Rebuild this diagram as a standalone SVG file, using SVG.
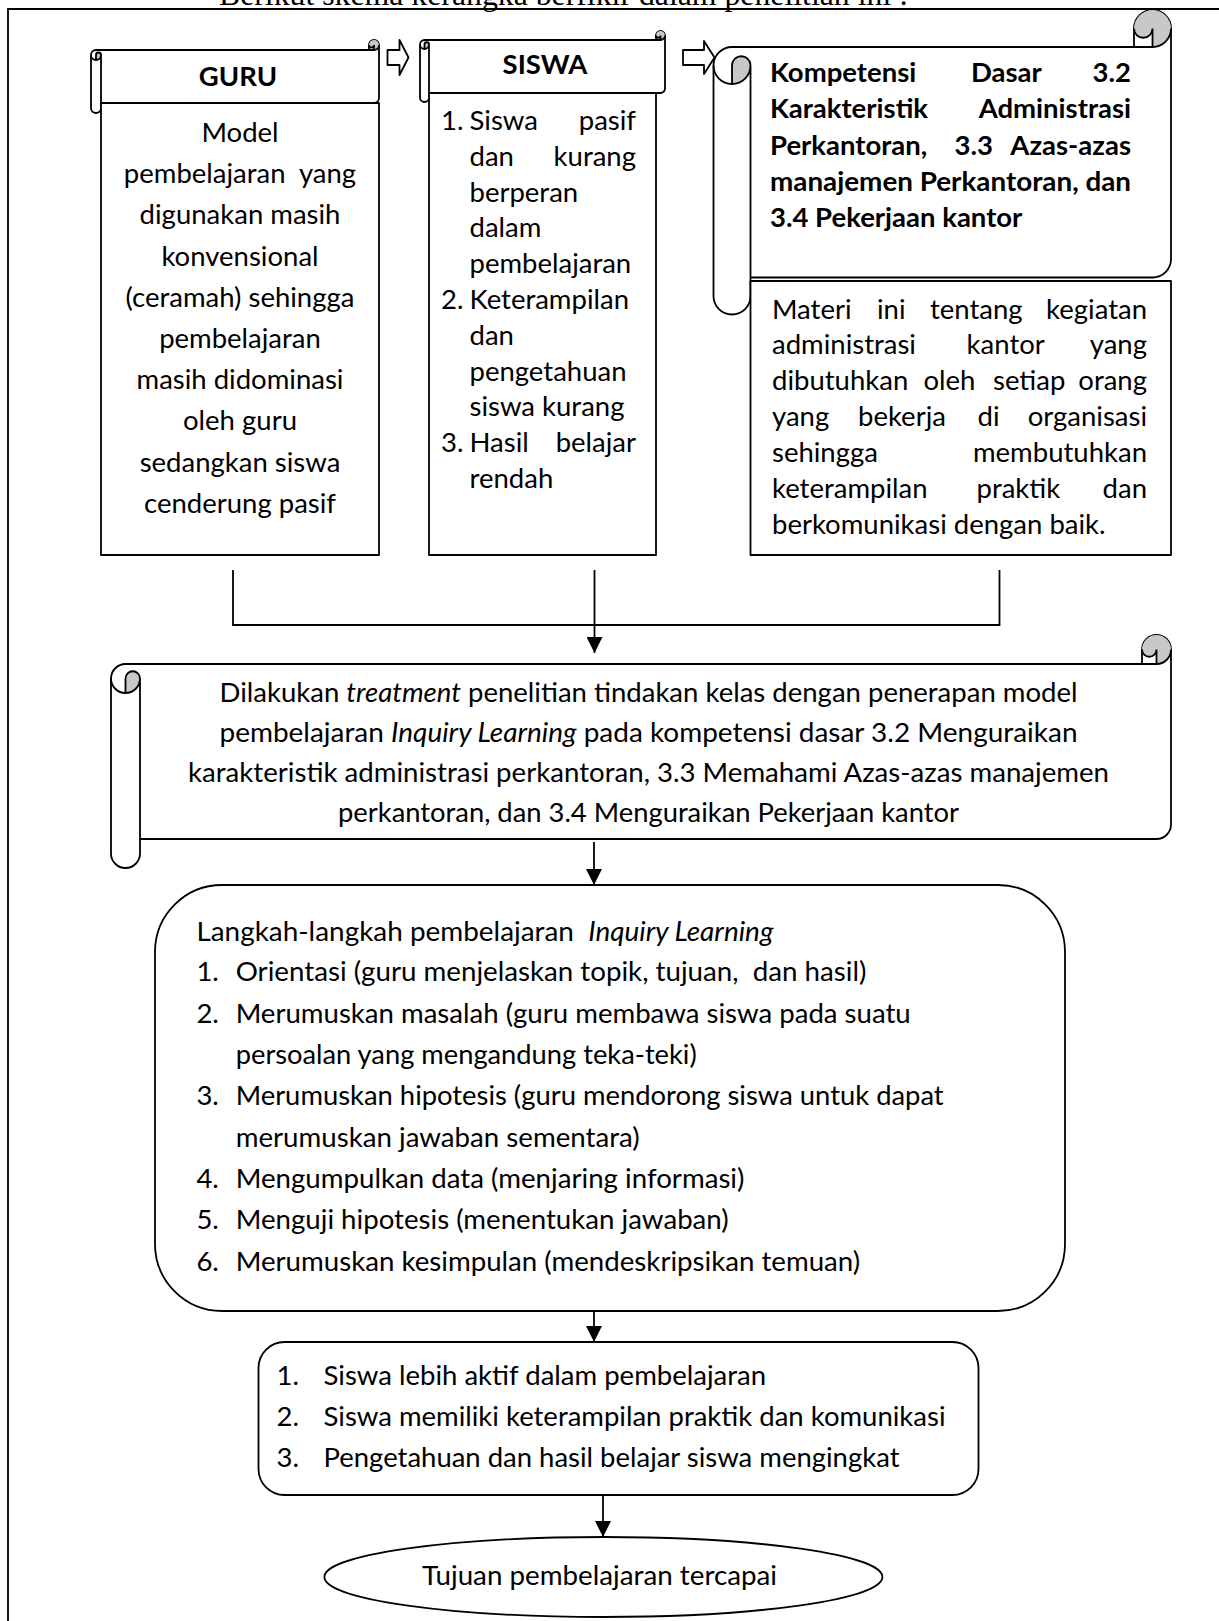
<svg xmlns="http://www.w3.org/2000/svg" width="1219" height="1621" viewBox="0 0 1219 1621">
<defs>
<style>
.ln{fill:none;stroke:#000;stroke-width:1.8}
.bx{fill:#fff;stroke:#000;stroke-width:1.8;stroke-linejoin:round}
.gr{fill:#c8c8c8;stroke:none}
.t{font-family:Lato,"Liberation Sans",sans-serif;font-size:27.5px;fill:#000}
.b{font-weight:bold}
.c{text-anchor:middle}
.e{text-anchor:end}
.pre{white-space:pre}
.i{font-style:italic}
</style>
<marker id="ah" markerUnits="userSpaceOnUse" markerWidth="16" markerHeight="16" viewBox="0 0 16 16" refX="16" refY="8" orient="auto"><path d="M0,0 L16,8 L0,16 Z" fill="#000"/></marker>
</defs>
<rect width="1219" height="1621" fill="#fff"/>

<g id="caption">
<text x="219" y="5" font-family="Liberation Serif,serif" font-size="31.8" textLength="689" lengthAdjust="spacingAndGlyphs">Berikut skema kerangka berfikir dalam penelitian ini :</text>
</g>
<g id="page-frame"><path class="ln" stroke-width="2" d="M8,1621 L8,9 L1219,9"/></g>

<g id="node-guru">
<path class="bx" d="M91,55 A5 5 0 0 1 96,50 L369,50 L369,45 A5 5 0 0 1 379,45 L379,98 A5 5 0 0 1 374,103 L101,103 L101,108 A5 5 0 0 1 91,108 Z"/>
<path class="gr" d="M96,60 A5 5 0 0 0 101,55 A2.5 2.5 0 0 0 96,55 Z M374,50 A5 5 0 1 0 369,45 A2.5 2.5 0 0 0 374,45 Z"/>
<path class="ln" d="M369,50 L374,50 A5 5 0 0 0 379,45 M374,50 L374,45 A2.5 2.5 0 0 1 369,45 M96,60 L96,55 A2.5 2.5 0 0 1 101,55 A5 5 0 0 1 91,55 M101,55 L101,103"/>
<text class="t b c" x="238" y="86">GURU</text>
<rect class="bx" x="101" y="103" width="278" height="452"/>
<text class="t c" x="240" y="142">Model</text>
<text class="t c pre" x="240" y="183.2">pembelajaran  yang</text>
<text class="t c" x="240" y="224.4">digunakan masih</text>
<text class="t c" x="240" y="265.6">konvensional</text>
<text class="t c" x="240" y="306.8">(ceramah) sehingga</text>
<text class="t c" x="240" y="348">pembelajaran</text>
<text class="t c" x="240" y="389.2">masih didominasi</text>
<text class="t c" x="240" y="430.4">oleh guru</text>
<text class="t c" x="240" y="471.6">sedangkan siswa</text>
<text class="t c" x="240" y="512.8">cenderung pasif</text>
</g>

<g id="node-siswa">
<path class="bx" d="M420,44.5 A4.5 4.5 0 0 1 424.5,40 L656,40 L656,35.5 A4.5 4.5 0 0 1 665,35.5 L665,88.5 A4.5 4.5 0 0 1 660.5,93 L429,93 L429,97.5 A4.5 4.5 0 0 1 420,97.5 Z"/>
<path class="gr" d="M424.5,49 A4.5 4.5 0 0 0 429,44.5 A2.25 2.25 0 0 0 424.5,44.5 Z M660.5,40 A4.5 4.5 0 1 0 656,35.5 A2.25 2.25 0 0 0 660.5,35.5 Z"/>
<path class="ln" d="M656,40 L660.5,40 A4.5 4.5 0 0 0 665,35.5 M660.5,40 L660.5,35.5 A2.25 2.25 0 0 1 656,35.5 M424.5,49 L424.5,44.5 A2.25 2.25 0 0 1 429,44.5 A4.5 4.5 0 0 1 420,44.5 M429,44.5 L429,93"/>
<text class="t b c" x="545" y="74">SISWA</text>
<rect class="bx" x="429" y="93" width="227" height="462"/>
<text class="t" y="130"><tspan x="441">1.</tspan><tspan x="469.5">Siswa</tspan></text>
<text class="t e" x="636" y="130">pasif</text>
<text class="t" x="469.5" y="165.8">dan</text>
<text class="t e" x="636" y="165.8">kurang</text>
<text class="t" x="469.5" y="201.6">berperan</text>
<text class="t" x="469.5" y="237.4">dalam</text>
<text class="t" x="469.5" y="273.2">pembelajaran</text>
<text class="t" y="309"><tspan x="441">2.</tspan><tspan x="469.5">Keterampilan</tspan></text>
<text class="t" x="469.5" y="344.8">dan</text>
<text class="t" x="469.5" y="380.6">pengetahuan</text>
<text class="t" x="469.5" y="416.4">siswa kurang</text>
<text class="t" y="452.2"><tspan x="441">3.</tspan><tspan x="469.5">Hasil</tspan></text>
<text class="t e" x="636" y="452.2">belajar</text>
<text class="t" x="469.5" y="488">rendah</text>
</g>

<g id="node-kompetensi">
<path class="bx" d="M713.5,65.5 A18.5 18.5 0 0 1 732,47 L1134,47 L1134,28.5 A18.5 18.5 0 0 1 1171,28.5 L1171,259 A18.5 18.5 0 0 1 1152.5,277.5 L750.5,277.5 L750.5,296 A18.5 18.5 0 0 1 713.5,296 Z"/>
<path class="gr" d="M732,84 A18.5 18.5 0 0 0 750.5,65.5 A9.25 9.25 0 0 0 732,65.5 Z M1152.5,47 A18.5 18.5 0 1 0 1134,28.5 A9.25 9.25 0 0 0 1152.5,28.5 Z"/>
<path class="ln" d="M1134,47 L1152.5,47 A18.5 18.5 0 0 0 1171,28.5 M1152.5,47 L1152.5,28.5 A9.25 9.25 0 0 1 1134,28.5 M732,84 L732,65.5 A9.25 9.25 0 0 1 750.5,65.5 A18.5 18.5 0 0 1 713.5,65.5 M750.5,65.5 L750.5,277.5"/>
<text class="t b" y="82"><tspan x="770">Kompetensi</tspan><tspan x="971">Dasar</tspan></text>
<text class="t b e" x="1131" y="82">3.2</text>
<text class="t b" x="770" y="118.3">Karakteristik</text>
<text class="t b e" x="1131" y="118.3">Administrasi</text>
<text class="t b" y="154.6"><tspan x="770">Perkantoran,</tspan><tspan x="954.5">3.3</tspan></text>
<text class="t b e" x="1131" y="154.6">Azas-azas</text>
<text class="t b" x="770" y="190.9" textLength="361" lengthAdjust="spacingAndGlyphs">manajemen Perkantoran, dan</text>
<text class="t b" x="770" y="227.2">3.4 Pekerjaan kantor</text>
</g>

<g id="node-materi">
<rect class="bx" x="750.5" y="281" width="420.5" height="274"/>
<text class="t" y="318.5"><tspan x="772">Materi</tspan><tspan x="877">ini</tspan><tspan x="930">tentang</tspan></text>
<text class="t e" x="1147" y="318.5">kegiatan</text>
<text class="t" y="354.4"><tspan x="772">administrasi</tspan><tspan x="966.6">kantor</tspan></text>
<text class="t e" x="1147" y="354.4">yang</text>
<text class="t" y="390.2"><tspan x="772">dibutuhkan</tspan><tspan x="923.5">oleh</tspan><tspan x="993">setiap</tspan></text>
<text class="t e" x="1147" y="390.2">orang</text>
<text class="t" y="426.1"><tspan x="772">yang</tspan><tspan x="858">bekerja</tspan><tspan x="977.5">di</tspan></text>
<text class="t e" x="1147" y="426.1">organisasi</text>
<text class="t" x="772" y="461.9">sehingga</text>
<text class="t e" x="1147" y="461.9">membutuhkan</text>
<text class="t" y="497.8"><tspan x="772">keterampilan</tspan><tspan x="976.5">praktik</tspan></text>
<text class="t e" x="1147" y="497.8">dan</text>
<text class="t" x="772" y="533.6">berkomunikasi dengan baik.</text>
</g>

<g id="node-treatment">
<path class="bx" d="M111,678.5 A14.5 14.5 0 0 1 125.5,664 L1142,664 L1142,649.5 A14.5 14.5 0 0 1 1171,649.5 L1171,824.5 A14.5 14.5 0 0 1 1156.5,839 L140,839 L140,853.5 A14.5 14.5 0 0 1 111,853.5 Z"/>
<path class="gr" d="M125.5,693 A14.5 14.5 0 0 0 140,678.5 A7.25 7.25 0 0 0 125.5,678.5 Z M1156.5,664 A14.5 14.5 0 1 0 1142,649.5 A7.25 7.25 0 0 0 1156.5,649.5 Z"/>
<path class="ln" d="M1142,664 L1156.5,664 A14.5 14.5 0 0 0 1171,649.5 M1156.5,664 L1156.5,649.5 A7.25 7.25 0 0 1 1142,649.5 M125.5,693 L125.5,678.5 A7.25 7.25 0 0 1 140,678.5 A14.5 14.5 0 0 1 111,678.5 M140,678.5 L140,839"/>
<text class="t c" x="648.5" y="702" textLength="858" lengthAdjust="spacingAndGlyphs">Dilakukan <tspan class="i">treatment</tspan> penelitian tindakan kelas dengan penerapan model</text>
<text class="t c" x="648.5" y="742" textLength="858" lengthAdjust="spacingAndGlyphs">pembelajaran <tspan class="i">Inquiry Learning</tspan> pada kompetensi dasar 3.2 Menguraikan</text>
<text class="t c" x="648.5" y="782" textLength="921" lengthAdjust="spacingAndGlyphs">karakteristik administrasi perkantoran, 3.3 Memahami Azas-azas manajemen</text>
<text class="t c" x="648.5" y="822" textLength="621" lengthAdjust="spacingAndGlyphs">perkantoran, dan 3.4 Menguraikan Pekerjaan kantor</text>
</g>

<g id="node-langkah">
<rect class="bx" x="155" y="885" width="910" height="426" rx="67" ry="67"/>
<text class="t pre" x="196.4" y="941" textLength="577" lengthAdjust="spacingAndGlyphs">Langkah-langkah pembelajaran  <tspan class="i">Inquiry Learning</tspan></text>
<text class="t" x="196.4" y="981.3">1.</text>
<text class="t pre" x="235.7" y="981.3" textLength="630.7" lengthAdjust="spacingAndGlyphs">Orientasi (guru menjelaskan topik, tujuan,  dan hasil)</text>
<text class="t" x="196.4" y="1022.6">2.</text>
<text class="t" x="235.7" y="1022.6" textLength="675" lengthAdjust="spacingAndGlyphs">Merumuskan masalah (guru membawa siswa pada suatu</text>
<text class="t" x="235.7" y="1064" textLength="461" lengthAdjust="spacingAndGlyphs">persoalan yang mengandung teka-teki)</text>
<text class="t" x="196.4" y="1105.3">3.</text>
<text class="t" x="235.7" y="1105.3" textLength="708" lengthAdjust="spacingAndGlyphs">Merumuskan hipotesis (guru mendorong siswa untuk dapat</text>
<text class="t" x="235.7" y="1146.7" textLength="404" lengthAdjust="spacingAndGlyphs">merumuskan jawaban sementara)</text>
<text class="t" x="196.4" y="1188">4.</text>
<text class="t" x="235.7" y="1188" textLength="508.7" lengthAdjust="spacingAndGlyphs">Mengumpulkan data (menjaring informasi)</text>
<text class="t" x="196.4" y="1229.4">5.</text>
<text class="t" x="235.7" y="1229.4" textLength="493" lengthAdjust="spacingAndGlyphs">Menguji hipotesis (menentukan jawaban)</text>
<text class="t" x="196.4" y="1270.8">6.</text>
<text class="t" x="235.7" y="1270.8" textLength="624.5" lengthAdjust="spacingAndGlyphs">Merumuskan kesimpulan (mendeskripsikan temuan)</text>
</g>

<g id="node-hasil">
<rect class="bx" x="258.5" y="1342" width="720" height="153" rx="26" ry="26"/>
<text class="t" x="276.5" y="1385">1.</text>
<text class="t" x="323.5" y="1385" textLength="442.5" lengthAdjust="spacingAndGlyphs">Siswa lebih aktif dalam pembelajaran</text>
<text class="t" x="276.5" y="1426">2.</text>
<text class="t" x="323.5" y="1426" textLength="622" lengthAdjust="spacingAndGlyphs">Siswa memiliki keterampilan praktik dan komunikasi</text>
<text class="t" x="276.5" y="1467">3.</text>
<text class="t" x="323.5" y="1467" textLength="576" lengthAdjust="spacingAndGlyphs">Pengetahuan dan hasil belajar siswa mengingkat</text>
</g>

<g id="node-tujuan">
<ellipse class="bx" cx="603.4" cy="1577" rx="279" ry="40"/>
<text class="t c" x="599.5" y="1585" textLength="355" lengthAdjust="spacingAndGlyphs">Tujuan pembelajaran tercapai</text>
</g>

<g id="connectors">
<path class="bx" d="M387.5,50 L399.5,50 L399.5,40 L408.5,57.5 L399.5,75 L399.5,65 L387.5,65 Z"/>
<path class="bx" d="M683,50 L704,50 L704,41 L714.5,57.5 L704,74 L704,65 L683,65 Z"/>
<path class="ln" d="M233,570 L233,625 L999.5,625 L999.5,570"/>
<path class="ln" marker-end="url(#ah)" d="M594.5,570 L594.5,653"/>
<path class="ln" marker-end="url(#ah)" d="M594,842 L594,885"/>
<path class="ln" marker-end="url(#ah)" d="M594,1311 L594,1342"/>
<path class="ln" marker-end="url(#ah)" d="M603,1496 L603,1537"/>
</g>
</svg>
